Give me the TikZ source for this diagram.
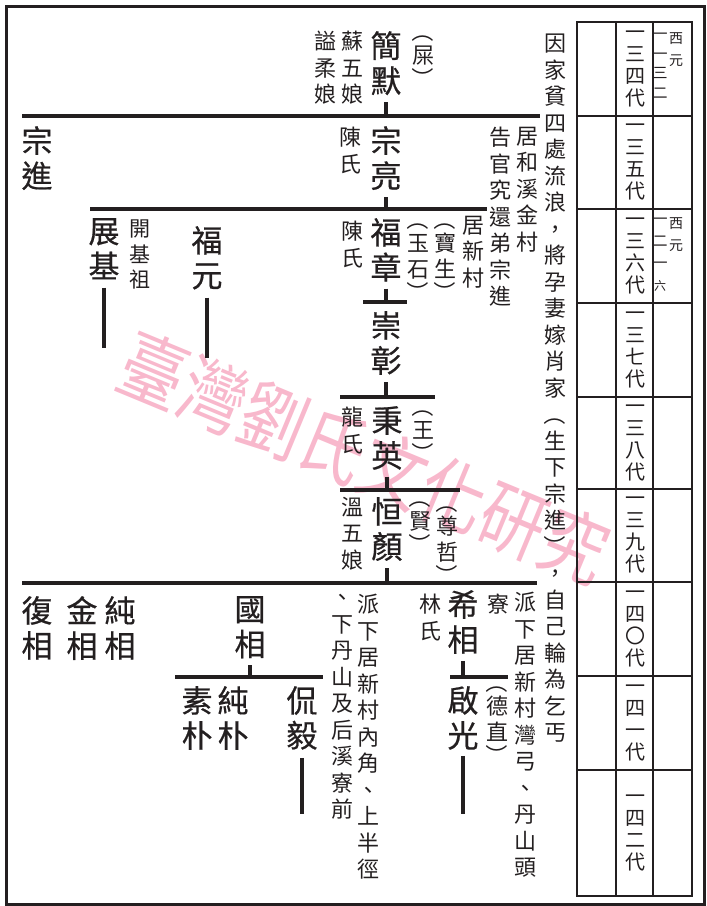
\documentclass[tikz,border=0pt]{standalone}
\usepackage{graphicx}
\usepackage{fontspec}
\newfontfamily\cjk{Noto Sans CJK TC}
\newfontfamily\cjkname[FakeBold=0.6]{Noto Sans CJK TC}
\definecolor{ink}{RGB}{35,31,32}
\definecolor{wmpink}{RGB}{248,184,204}
% vertical brackets
\newcommand{\vlp}{\rotatebox[origin=c]{-90}{（}}
\newcommand{\vrp}{\rotatebox[origin=c]{-90}{）}}
\newcommand{\lpar}{\vlp\\[-3pt]}
\newcommand{\rpar}{\\[-3pt]\vrp}
\tikzset{
  famline/.style={line width=3.5pt, draw=ink},
  stem/.style={famline, shorten <=7pt},
  tabline/.style={line width=2.4pt, draw=ink},
  person/.style={inner sep=0pt, anchor=north, align=center, text=ink, font=\cjkname\fontsize{31}{35}\selectfont},
  note/.style={inner sep=0pt, anchor=north, align=center, text=ink, font=\cjk\fontsize{22}{26.5}\selectfont},
  gen/.style={inner sep=0pt, align=center, text=ink, font=\cjk\fontsize{20}{22}\selectfont},
  year/.style={inner sep=0pt, anchor=north, align=center, text=ink, font=\cjk\fontsize{15}{19.5}\selectfont},
  era/.style={inner sep=0pt, anchor=north, align=center, text=ink, font=\cjk\fontsize{14}{22}\selectfont},
  wmark/.style={inner sep=0pt, text=wmpink, rotate=-22.5, font=\cjk\fontsize{74}{74}\selectfont}
}
\begin{document}
\begin{tikzpicture}[x=1pt,y=-1pt]
\useasboundingbox (0,0) rectangle (707,906);
\node[wmark] (wm) at (364,458) {\scalebox{0.88}[1.05]{臺灣劉氏文化研究}};
\draw[line width=3pt, draw=ink] (6,6) rectangle (704,904);

% generation table
\draw[tabline] (577,22) rectangle (692,896);
\draw[tabline] (616,22) -- (616,896) (653,22) -- (653,896);
\foreach \y in {116,209,303,397,489,582,676,770}
  \draw[tabline] (577,\y) -- (692,\y);
\node[gen] (g134) at (635,69) {一\\三\\四\\代};
\node[gen] (g135) at (635,162.5) {一\\三\\五\\代};
\node[gen] (g136) at (635,256) {一\\三\\六\\代};
\node[gen] (g137) at (635,350) {一\\三\\七\\代};
\node[gen] (g138) at (635,443) {一\\三\\八\\代};
\node[gen] (g139) at (635,535.5) {一\\三\\九\\代};
\node[gen] (g140) at (635,629) {一\\四\\〇\\代};
\node[gen] (g141) at (635,723) {一\\四\\一\\代};
\node[gen] (g142) at (635,833) {一\\四\\二\\代};
\node[era] (era1) at (676,32) {西\\元};
\node[year] (yr1) at (660,33) {一\\一\\三\\二};
\node[era] (era2) at (676,217) {西\\元};
\node[year, font=\cjk\fontsize{15}{22}\selectfont] (yr2) at (660,218) {一\\二\\一\\{\fontsize{12}{12}\selectfont 六}};

\node[note] (story) at (555,34) {因\\家\\貧\\四\\處\\流\\浪\\，\\將\\孕\\妻\\嫁\\肖\\家\\\vlp\\生\\下\\宗\\進\\\vrp\\，\\自\\己\\輪\\為\\乞\\丐};

% 134
\node[person] (jianmo) at (386,31) {簡\\默};
\node[note] (shi) at (423,20) {\lpar 屎\rpar};
\node[note] (suwu) at (352,31) {蘇\\五\\娘};
\node[note] (shirou) at (325,31) {謚\\柔\\娘};
\coordinate (b1l) at (22,116);
\coordinate (b1r) at (540,116);
\draw[famline] (b1l) -- (b1r);
\draw[stem] (jianmo.south) -- (jianmo.south |- b1l);

% 135
\node[person] (zongjin) at (37,126) {宗\\進};
\node[person] (zongliang) at (386,126) {宗\\亮};
\node[note] (chen1) at (350,127) {陳\\氏};
\node[note] (juhexi) at (527,127) {居\\和\\溪\\金\\村};
\node[note] (gaoguan) at (500,127) {告\\官\\究\\還\\弟\\宗\\進};
\coordinate (b2l) at (90,209);
\coordinate (b2r) at (487,209);
\draw[famline] (b2l) -- (b2r);
\draw[stem] (zongliang.south) -- (zongliang.south |- b2l);

% 136
\node[person] (zhanji) at (104,218) {展\\基};
\node[note, font=\cjk\fontsize{21}{25.5}\selectfont] (kaiji) at (140,220) {開\\基\\祖};
\node[person] (fuyuan) at (207,226) {福\\元};
\node[person] (fuzhang) at (386,218) {福\\章};
\node[note] (chen2) at (352,221) {陳\\氏};
\node[note] (yushi) at (418,208) {\lpar 玉\\石\rpar};
\node[note] (baosheng) at (445,208) {\lpar 寶\\生\rpar};
\node[note] (juxin) at (473,216) {居\\新\\村};
\draw[famline, shorten <=8pt] (zhanji.south) -- ++(0,68);
\draw[famline, shorten <=8pt] (fuyuan.south) -- ++(0,68);
\coordinate (b3l) at (363,302);
\coordinate (b3r) at (407,302);
\draw[famline] (b3l) -- (b3r);
\draw[stem] (fuzhang.south) -- (fuzhang.south |- b3l);

% 137
\node[person] (chongzhang) at (386,311) {崇\\彰};
\coordinate (b4l) at (340,397);
\coordinate (b4r) at (435,397);
\draw[famline] (b4l) -- (b4r);
\draw[stem] (chongzhang.south) -- (chongzhang.south |- b4l);

% 138
\node[person] (bingying) at (387,406) {秉\\英};
\node[note] (long) at (352,407) {龍\\氏};
\node[note] (wang) at (423,395) {\lpar 王\rpar};
\coordinate (b5l) at (340,490);
\coordinate (b5r) at (460,490);
\draw[famline] (b5l) -- (b5r);
\draw[stem] (bingying.south) -- (bingying.south |- b5l);

% 139
\node[person] (hengyan) at (387,497) {恒\\顏};
\node[note] (wenwu) at (352,497) {溫\\五\\娘};
\node[note] (xian) at (420,486) {\lpar 賢\rpar};
\node[note] (zunzhe) at (447,491) {\lpar 尊\\哲\rpar};
\coordinate (b6l) at (22,583);
\coordinate (b6r) at (537,583);
\draw[famline] (b6l) -- (b6r);
\draw[stem] (hengyan.south) -- (hengyan.south |- b6l);

% 140
\node[person] (fuxiang) at (37,596) {復\\相};
\node[person] (jinxiang) at (82,596) {金\\相};
\node[person] (chunxiang) at (120,596) {純\\相};
\node[person] (guoxiang) at (250,596) {國\\相};
\node[note] (paixia1) at (368,594) {派\\下\\居\\新\\村\\內\\角\\、\\上\\半\\徑};
\node[note] (paixia2) at (342,594) {、\\下\\丹\\山\\及\\后\\溪\\寮\\前};
\node[note] (lin) at (430,594) {林\\氏};
\node[person] (xixiang) at (463,590) {希\\相};
\node[note] (liao) at (498,594) {寮};
\node[note] (paixia3) at (525,592) {派\\下\\居\\新\\村\\灣\\弓\\、\\丹\\山\\頭};
\coordinate (b7l) at (175,677);
\coordinate (b7r) at (323,677);
\draw[famline] (b7l) -- (b7r);
\draw[stem] (guoxiang.south) -- (guoxiang.south |- b7l);
\coordinate (b8l) at (450,677);
\coordinate (b8r) at (508,677);
\draw[famline] (b8l) -- (b8r);
\draw[stem] (xixiang.south) -- (xixiang.south |- b8l);

% 141
\node[person] (supu) at (197,686) {素\\朴};
\node[person] (chunpu) at (233,686) {純\\朴};
\node[person] (kanyi) at (302,686) {侃\\毅};
\node[person] (qiguang) at (463,686) {啟\\光};
\node[note] (dezhi) at (497,671) {\lpar 德\\直\rpar};
\draw[famline, shorten <=8pt] (kanyi.south) -- ++(0,64);
\draw[famline, shorten <=6pt] (qiguang.south) -- ++(0,64);
\end{tikzpicture}
\end{document}
